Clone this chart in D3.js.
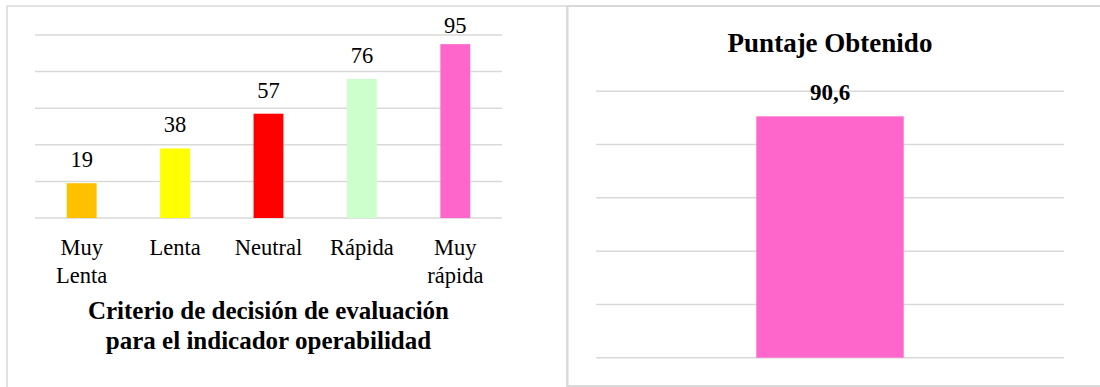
<!DOCTYPE html>
<html>
<head>
<meta charset="utf-8">
<script src="https://cdn.jsdelivr.net/npm/d3@7"></script>
<style>
  body { margin: 0; background: #fff; }
</style>
</head>
<body>
<svg id="chart" width="1100" height="387"></svg>
<script>
// left chart: evaluation criteria
var categories = ["Muy Lenta", "Lenta", "Neutral", "Rápida", "Muy rápida"];
var values = [19, 38, 57, 76, 95];
var barColors = ["#FFC000", "#FFFF00", "#FF0000", "#CCFFCC", "#FF66CC"];
var yTicks = [0, 20, 40, 60, 80, 100];
var leftTitle = ["Criterio de decisión de evaluación", "para el indicador operabilidad"];

// right chart: obtained score
var scoreCategory = ["Puntaje"];
var scoreValue = [90.6];
var scoreColor = "#FF66CC";
var rightTitle = "Puntaje Obtenido";

var font = "'Times New Roman', 'Liberation Serif', Times, serif";
var svg = d3.select("#chart").style("font-family", font);
var grid = "#d9d9d9";

// panel borders
svg.append("rect").attr("x", 7).attr("y", 6).attr("width", 560).attr("height", 400)
  .attr("fill", "none").attr("stroke", grid).attr("stroke-width", 1.5);
svg.append("rect").attr("x", 567.5).attr("y", 6).attr("width", 540).attr("height", 380)
  .attr("fill", "none").attr("stroke", grid).attr("stroke-width", 2);

// ---- left chart ----
var x = d3.scaleBand().domain(categories).range([35, 502])
  .paddingInner(0.68).paddingOuter(0.34);
var y = d3.scaleLinear().domain([0, 100]).range([218, 35]);

var left = svg.append("g");
left.selectAll(".grid").data(yTicks).enter().append("line")
  .attr("x1", 35).attr("x2", 502)
  .attr("y1", function(d) { return y(d); })
  .attr("y2", function(d) { return y(d); })
  .attr("stroke", grid).attr("stroke-width", 1.5);

left.selectAll(".bar").data(values).enter().append("rect")
  .attr("x", function(d, i) { return x(categories[i]); })
  .attr("width", x.bandwidth())
  .attr("y", function(d) { return y(d); })
  .attr("height", function(d) { return y(0) - y(d); })
  .attr("fill", function(d, i) { return barColors[i]; });

left.selectAll(".val").data(values).enter().append("text")
  .attr("x", function(d, i) { return x(categories[i]) + x.bandwidth() / 2; })
  .attr("y", function(d) { return Math.max(y(d) - 16, 33); })
  .attr("text-anchor", "middle")
  .attr("font-size", 22.5)
  .text(function(d) { return d; });

categories.forEach(function(c) {
  var t = left.append("text")
    .attr("x", x(c) + x.bandwidth() / 2)
    .attr("y", 254.5)
    .attr("text-anchor", "middle")
    .attr("font-size", 22.5);
  c.split(" ").forEach(function(w, k) {
    t.append("tspan").attr("x", x(c) + x.bandwidth() / 2)
      .attr("dy", k === 0 ? 0 : 28).text(w);
  });
});

leftTitle.forEach(function(line, k) {
  left.append("text")
    .attr("x", (35 + 502) / 2)
    .attr("y", 319 + k * 30)
    .attr("text-anchor", "middle")
    .attr("font-size", 25)
    .attr("font-weight", "bold")
    .text(line);
});

// ---- right chart ----
var x2 = d3.scaleBand().domain(scoreCategory).range([596, 1064])
  .paddingInner(0.685).paddingOuter(0.3425);
var y2 = d3.scaleLinear().domain([0, 100]).range([357.7, 91.3]);

var right = svg.append("g");
right.selectAll(".grid").data(yTicks).enter().append("line")
  .attr("x1", 596).attr("x2", 1064)
  .attr("y1", function(d) { return y2(d); })
  .attr("y2", function(d) { return y2(d); })
  .attr("stroke", grid).attr("stroke-width", 1.5);

right.selectAll(".bar").data(scoreValue).enter().append("rect")
  .attr("x", function(d, i) { return x2(scoreCategory[i]); })
  .attr("width", x2.bandwidth())
  .attr("y", function(d) { return y2(d); })
  .attr("height", function(d) { return y2(0) - y2(d); })
  .attr("fill", scoreColor);

right.selectAll(".val").data(scoreValue).enter().append("text")
  .attr("x", function(d, i) { return x2(scoreCategory[i]) + x2.bandwidth() / 2; })
  .attr("y", function(d) { return y2(d) - 16; })
  .attr("text-anchor", "middle")
  .attr("font-size", 23)
  .attr("font-weight", "bold")
  .text(function(d) { return String(d).replace(".", ","); });

right.append("text")
  .attr("x", (596 + 1064) / 2)
  .attr("y", 51.5)
  .attr("text-anchor", "middle")
  .attr("font-size", 27)
  .attr("font-weight", "bold")
  .text(rightTitle);
</script>
</body>
</html>
